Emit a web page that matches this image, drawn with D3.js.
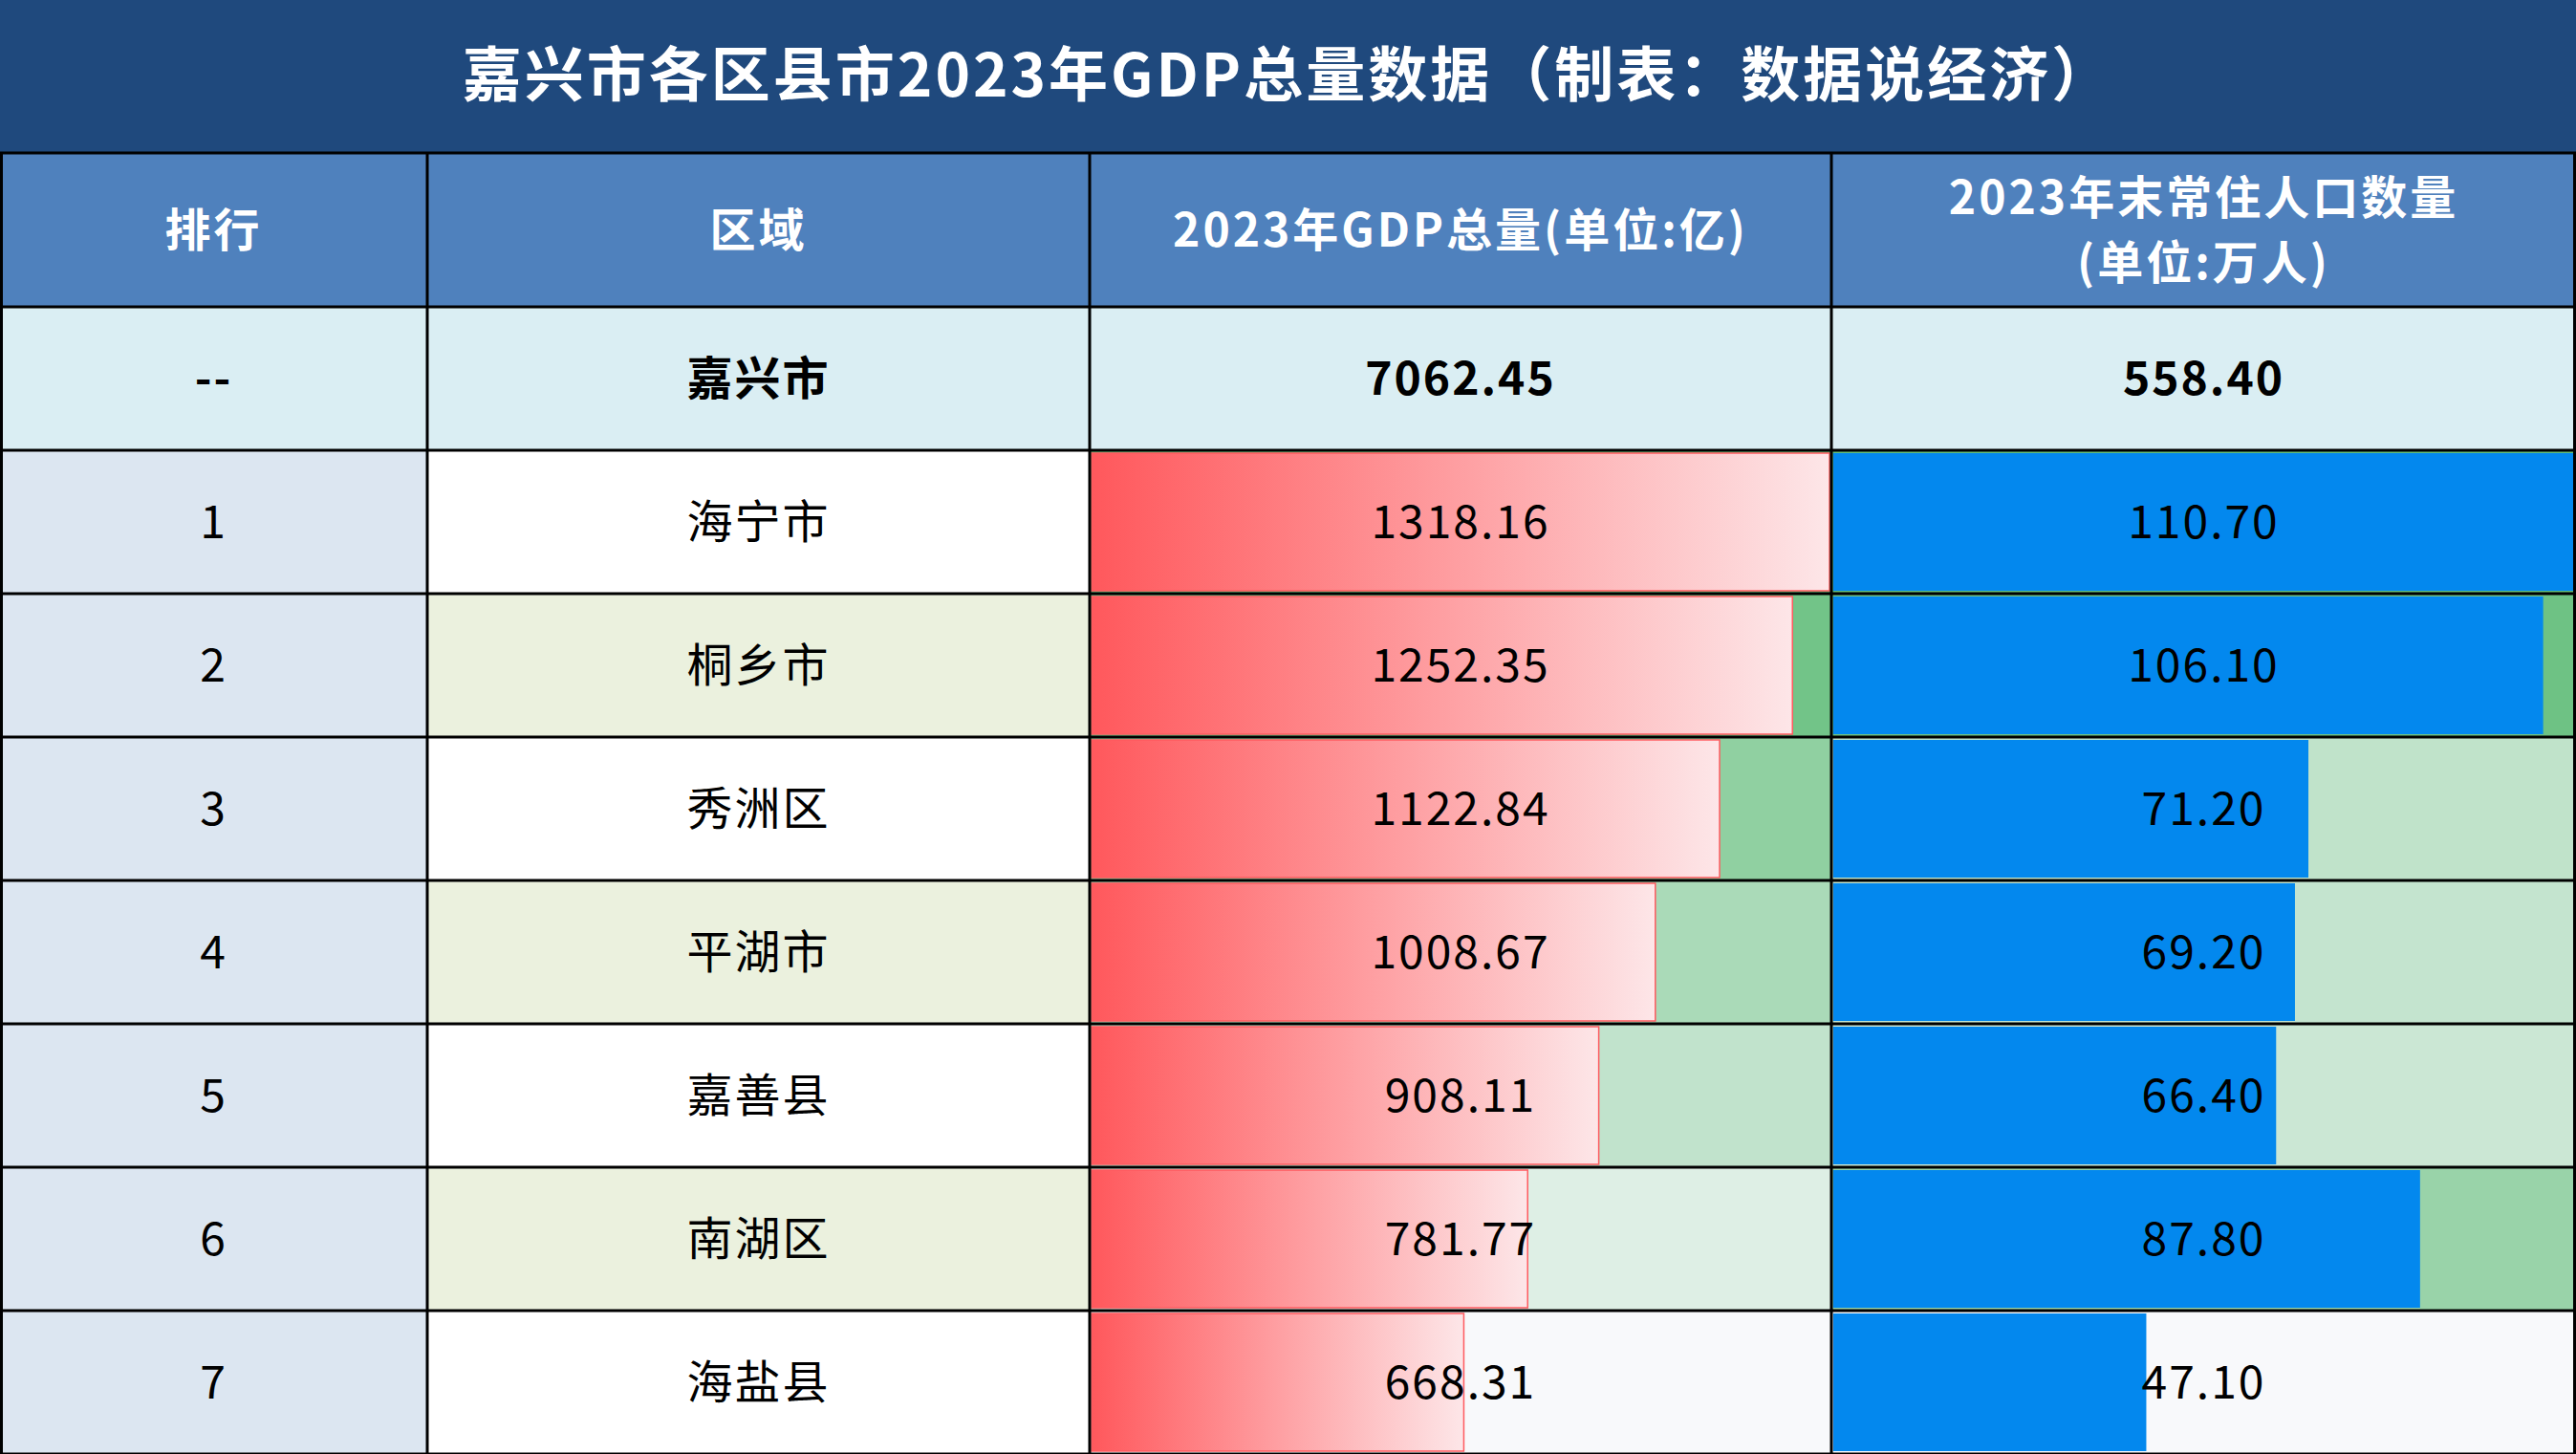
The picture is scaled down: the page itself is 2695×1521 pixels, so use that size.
<html>
<head>
<meta charset="utf-8">
<title>嘉兴市各区县市2023年GDP</title>
<style>
  body { margin: 0; background: #fff; }
  text { font-family: "Noto Sans CJK SC", "Noto Sans", sans-serif; }
</style>
</head>
<body>
<svg id="chart"></svg>
<script src="https://cdnjs.cloudflare.com/ajax/libs/d3/7.8.5/d3.min.js"></script>
<script>
    var title = '嘉兴市各区县市2023年GDP总量数据（制表：数据说经济）';
    var headers = ['排行', '区域', '2023年GDP总量(单位:亿)', '2023年末常住人口数量\n(单位:万人)'];
    var totalRow = ['--', '嘉兴市', '7062.45', '558.40'];
    var ranks = ['1', '2', '3', '4', '5', '6', '7'];
    var regions = ['海宁市', '桐乡市', '秀洲区', '平湖市', '嘉善县', '南湖区', '海盐县'];
    var gdp = [1318.16, 1252.35, 1122.84, 1008.67, 908.11, 781.77, 668.31];
    var population = [110.70, 106.10, 71.20, 69.20, 66.40, 87.80, 47.10];

    var W = 2695, H = 1521;
    var titleH = 160, headH = 161;
    var colEdges = [0, 447, 1140, 1916, W];
    var nRows = regions.length + 1;
    var rowH = (H - titleH - headH) / nRows;

    var svg = d3.select('#chart').attr('width', W).attr('height', H);

    var defs = svg.append('defs');
    var grad = defs.append('linearGradient').attr('id', 'redGrad');
    grad.append('stop').attr('offset', '0%').attr('stop-color', '#ff585c');
    grad.append('stop').attr('offset', '100%').attr('stop-color', '#fde6e8');

    // title bar
    svg.append('rect').attr('width', W).attr('height', titleH).attr('fill', '#1f497d');
    svg.append('text').attr('x', W / 2).attr('y', titleH / 2 + 4)
        .attr('text-anchor', 'middle').attr('dominant-baseline', 'middle')
        .attr('fill', '#fff').attr('font-size', 62).attr('font-weight', 'bold')
        .attr('letter-spacing', 3).text(title);

    // header row
    svg.append('rect').attr('y', titleH).attr('width', W).attr('height', headH).attr('fill', '#4f81bd');
    headers.forEach(function (h, i) {
        var cx = (colEdges[i] + colEdges[i + 1]) / 2;
        var lines = h.split('\n');
        var t = svg.append('text').attr('x', cx).attr('text-anchor', 'middle')
            .attr('fill', '#fff').attr('font-size', 48).attr('font-weight', 'bold')
            .attr('letter-spacing', 3);
        lines.forEach(function (l, j) {
            t.append('tspan').attr('x', cx)
                .attr('y', titleH + headH / 2 + 17 + (j - (lines.length - 1) / 2) * 68)
                .text(l);
        });
    });

    var y = function (i) { return titleH + headH + i * rowH; };

    // total row
    svg.append('rect').attr('y', y(0)).attr('width', W).attr('height', rowH).attr('fill', '#daeef3');
    totalRow.forEach(function (v, i) {
        svg.append('text').attr('x', (colEdges[i] + colEdges[i + 1]) / 2).attr('y', y(0) + rowH / 2 + 17)
            .attr('text-anchor', 'middle').attr('font-size', 48).attr('font-weight', 'bold')
            .attr('letter-spacing', 2).text(v);
    });

    var gdpX = d3.scaleLinear().domain([0, d3.max(gdp)]).range([0, colEdges[3] - colEdges[2]]);
    var popX = d3.scaleLinear().domain([0, d3.max(population)]).range([0, colEdges[4] - colEdges[3]]);
    var gdpColor = d3.scaleLinear().domain(d3.extent(gdp)).range(['#f8f9fb', '#63be7b']);
    var popColor = d3.scaleLinear().domain(d3.extent(population)).range(['#f8f9fb', '#63be7b']);

    var rows = svg.selectAll('g.row').data(regions).enter().append('g').attr('class', 'row')
        .attr('transform', function (d, i) { return 'translate(0,' + y(i + 1) + ')'; });

    rows.append('rect').attr('x', colEdges[0]).attr('width', colEdges[1]).attr('height', rowH).attr('fill', '#dce6f1');
    rows.append('rect').attr('x', colEdges[1]).attr('width', colEdges[2] - colEdges[1]).attr('height', rowH)
        .attr('fill', function (d, i) { return i % 2 ? '#ebf1de' : '#ffffff'; });
    rows.append('rect').attr('x', colEdges[2]).attr('width', colEdges[3] - colEdges[2]).attr('height', rowH)
        .attr('fill', function (d, i) { return gdpColor(gdp[i]); });
    rows.append('rect').attr('x', colEdges[3]).attr('width', colEdges[4] - colEdges[3]).attr('height', rowH)
        .attr('fill', function (d, i) { return popColor(population[i]); });

    // data bars
    rows.append('rect').attr('x', colEdges[2] + 2).attr('y', 3).attr('height', rowH - 6)
        .attr('width', function (d, i) { return gdpX(gdp[i]) - 4; })
        .attr('fill', 'url(#redGrad)').attr('stroke', '#ff5a5f').attr('stroke-width', 1.5);
    rows.append('rect').attr('x', colEdges[3] + 2).attr('y', 3).attr('height', rowH - 6)
        .attr('width', function (d, i) { return popX(population[i]) - 4; })
        .attr('fill', '#0388ee');

    var cellText = function (col, fn) {
        rows.append('text').attr('x', (colEdges[col] + colEdges[col + 1]) / 2).attr('y', rowH / 2 + 17)
            .attr('text-anchor', 'middle').attr('font-size', 48).attr('letter-spacing', 2).text(fn);
    };
    cellText(0, function (d, i) { return ranks[i]; });
    cellText(1, function (d) { return d; });
    cellText(2, function (d, i) { return gdp[i].toFixed(2); });
    cellText(3, function (d, i) { return population[i].toFixed(2); });

    // grid lines
    var grid = svg.append('g').attr('stroke', '#000').attr('stroke-width', 3);
    d3.range(nRows + 1).forEach(function (i) {
        grid.append('line').attr('x1', 0).attr('x2', W).attr('y1', y(i)).attr('y2', y(i));
    });
    grid.append('line').attr('x1', 0).attr('x2', W).attr('y1', titleH).attr('y2', titleH);
    colEdges.forEach(function (x) {
        var xx = Math.min(Math.max(x, 1.5), W - 1.5);
        grid.append('line').attr('x1', xx).attr('x2', xx).attr('y1', titleH).attr('y2', H);
    });
</script>
</body>
</html>
